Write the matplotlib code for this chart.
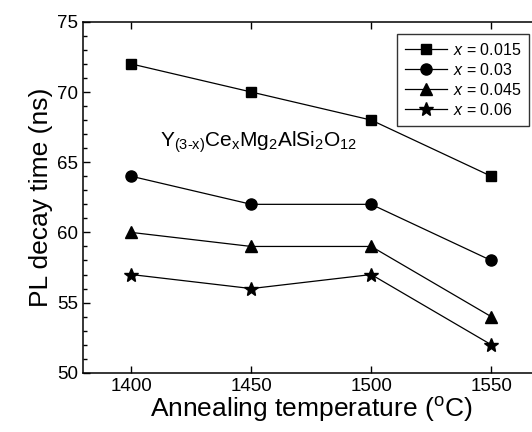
import matplotlib
matplotlib.use('Agg')
import matplotlib.pyplot as plt
from matplotlib.ticker import MultipleLocator

plt.rcParams['font.family'] = ['Liberation Sans', 'DejaVu Sans']
plt.rcParams['mathtext.fontset'] = 'custom'
plt.rcParams['mathtext.rm'] = 'Liberation Sans'
plt.rcParams['mathtext.it'] = 'Liberation Sans:italic'

# temperaturas de recozimento e tempos de decaimento
temps = [1400, 1450, 1500, 1550]
decay_015 = [72, 70, 68, 64]
decay_03 = [64, 62, 62, 58]
decay_045 = [60, 59, 59, 54]
decay_06 = [57, 56, 57, 52]
labels = ['0.015', '0.03', '0.045', '0.06']

fig = plt.figure(figsize=(5.32, 4.32), dpi=100)
ax = fig.add_axes([0.1566, 0.137, 0.857, 0.8125])

series = [decay_015, decay_03, decay_045, decay_06]
markers = ['s', 'o', '^', '*']
sizes = [7.5, 8, 8.5, 10]
for vals, lab, m, ms in zip(series, labels, markers, sizes):
    ax.plot(temps, vals, color='black', lw=0.9, marker=m, ms=ms,
            label='$x$ = ' + lab)

ax.set_xlim(1380, 1570)
ax.set_ylim(50, 75)
ax.set_xticks(temps)
ax.yaxis.set_major_locator(MultipleLocator(5))
ax.yaxis.set_minor_locator(MultipleLocator(1))
ax.tick_params(which='both', direction='in', top=True, right=True,
               labelsize=13.5, width=1)
ax.tick_params(which='major', length=5)
ax.tick_params(which='minor', length=3)
for s in ax.spines.values():
    s.set_linewidth(1.1)

ax.set_xlabel('Annealing temperature ($\\mathregular{^{o}}$C)', fontsize=19, labelpad=0)
ax.set_ylabel('PL decay time (ns)', fontsize=19, labelpad=3)

# formula com hifen normal (sem o espacamento do sinal de menos)
ax.text(1412, 66.1,
        'Y$\\mathregular{_{(3\u2010x)}}$Ce$\\mathregular{_{x}}$Mg$\\mathregular{_{2}}$'
        'AlSi$\\mathregular{_{2}}$O$\\mathregular{_{12}}$',
        fontsize=15, va='baseline')

leg = ax.legend(loc='upper left', bbox_to_anchor=(0.688, 0.965), fontsize=11.5,
                frameon=True, fancybox=False, edgecolor='black',
                handlelength=2.6, handletextpad=0.4, borderpad=0.5,
                labelspacing=0.25, borderaxespad=0)
leg.get_frame().set_linewidth(1)

plt.savefig('out.png', dpi=100)
